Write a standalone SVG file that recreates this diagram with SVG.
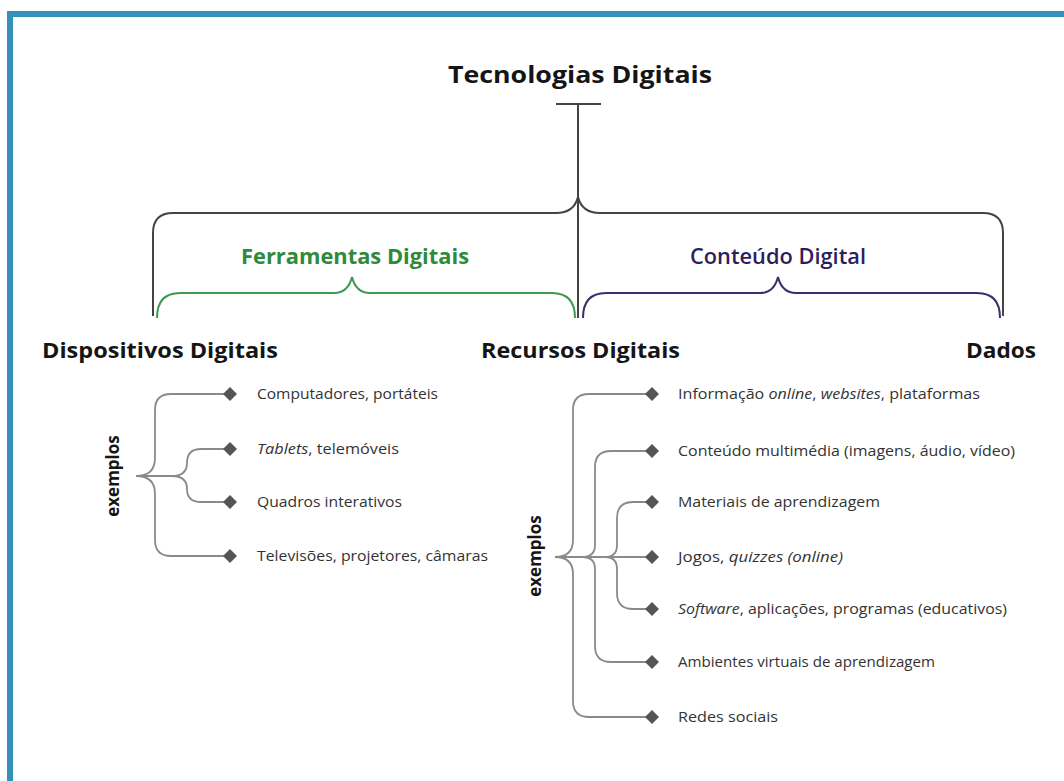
<svg xmlns="http://www.w3.org/2000/svg" xmlns:xlink="http://www.w3.org/1999/xlink" width="1064" height="781" viewBox="0 0 1064 781">
  <style>
    .hd { font-family: "Open Sans", "Liberation Sans", sans-serif; font-weight: 700; fill: #151515; }
    .item { font-family: "Open Sans", "Liberation Sans", sans-serif; font-size: 15px; fill: #333; }
    .it { font-style: italic; }
    .brace { fill: none; stroke: #444; stroke-width: 2; }
    .tree { fill: none; stroke: #8a8a8a; stroke-width: 1.8; }
  </style>
  <defs>
    <polygon id="dia" points="0,-7 7,0 0,7 -7,0" fill="#555"/>
  </defs>

  <rect x="0" y="0" width="1064" height="781" fill="#fff"/>
  <!-- frame -->
  <path d="M10,781 V14 H1064" fill="none" stroke="#3591bb" stroke-width="6"/>

  <!-- connectors -->
  <g id="connectors">
    <path class="brace" d="M556,104 H601 M578,104 V318"/>
    <path class="brace" d="M153,316 V233 Q153,213 173,213 H556 Q574,213 578,197 Q582,213 600,213 H983 Q1003,213 1003,233 V316"/>
    <path fill="none" stroke="#3e9a52" stroke-width="2" d="M157,318 Q157,293 180,293 H334 Q348,293 352,277 Q356,293 370,293 H552 Q575,293 575,318"/>
    <path fill="none" stroke="#3b2e6e" stroke-width="2" d="M583,318 Q583,293 606,293 H760 Q774,293 778,277 Q782,293 796,293 H977 Q1000,293 1000,318"/>

    <!-- device examples -->
    <path class="tree" d="M136,476 Q155,476 155,458 V410 Q155,394 171,394 H230"/>
    <path class="tree" d="M136,476 Q155,476 155,494 V540 Q155,556 171,556 H230"/>
    <path class="tree" d="M136,476 H172 Q187,476 187,463 Q187,449 201,449 H230"/>
    <path class="tree" d="M172,476 Q187,476 187,489 Q187,502 201,502 H230"/>

    <!-- resource examples -->
    <path class="tree" d="M555,557 Q573,557 573,540 V410 Q573,394 589,394 H652"/>
    <path class="tree" d="M555,557 Q573,557 573,574 V701 Q573,717 589,717 H652"/>
    <path class="tree" d="M573,557 H582 Q595,557 595,545 V467 Q595,451 611,451 H652"/>
    <path class="tree" d="M582,557 Q595,557 595,569 V646 Q595,662 611,662 H652"/>
    <path class="tree" d="M595,557 H605 Q617,557 617,545 V518 Q617,502 633,502 H652"/>
    <path class="tree" d="M605,557 Q617,557 617,569 V593 Q617,609 633,609 H652"/>
    <path class="tree" d="M555,557 H652"/>
  </g>

  <g id="title">
    <text class="hd" x="448" y="83" font-size="23" textLength="264" lengthAdjust="spacingAndGlyphs">Tecnologias Digitais</text>
  </g>
  <g id="ferramentas">
    <text x="241" y="264" font-family="Open Sans, Liberation Sans, sans-serif" font-weight="700" font-size="21" fill="#2f8a3c" textLength="228" lengthAdjust="spacingAndGlyphs">Ferramentas Digitais</text>
  </g>
  <g id="conteudo">
    <text x="690" y="264" font-family="Open Sans, Liberation Sans, sans-serif" font-weight="600" font-size="21" fill="#2d1d5c" textLength="176" lengthAdjust="spacingAndGlyphs">Conteúdo Digital</text>
  </g>

  <g id="dispositivos">
    <text class="hd" x="42" y="358" font-size="21" textLength="236" lengthAdjust="spacingAndGlyphs">Dispositivos Digitais</text>
    <text class="hd" font-size="17" transform="translate(119,476) rotate(-90)" text-anchor="middle">exemplos</text>
    <use xlink:href="#dia" x="230" y="394"/>
    <use xlink:href="#dia" x="230" y="449"/>
    <use xlink:href="#dia" x="230" y="502"/>
    <use xlink:href="#dia" x="230" y="556"/>
    <text class="item" x="257" y="399" textLength="181" lengthAdjust="spacingAndGlyphs">Computadores, portáteis</text>
    <text class="item" x="257" y="454" textLength="142" lengthAdjust="spacingAndGlyphs"><tspan class="it">Tablets</tspan>, telemóveis</text>
    <text class="item" x="257" y="507" textLength="145" lengthAdjust="spacingAndGlyphs">Quadros interativos</text>
    <text class="item" x="257" y="561" textLength="231" lengthAdjust="spacingAndGlyphs">Televisões, projetores, câmaras</text>
  </g>

  <g id="recursos">
    <text class="hd" x="481" y="358" font-size="21" textLength="199" lengthAdjust="spacingAndGlyphs">Recursos Digitais</text>
    <text class="hd" font-size="17" transform="translate(541,556) rotate(-90)" text-anchor="middle">exemplos</text>
    <use xlink:href="#dia" x="652" y="394"/>
    <use xlink:href="#dia" x="652" y="451"/>
    <use xlink:href="#dia" x="652" y="502"/>
    <use xlink:href="#dia" x="652" y="557"/>
    <use xlink:href="#dia" x="652" y="609"/>
    <use xlink:href="#dia" x="652" y="662"/>
    <use xlink:href="#dia" x="652" y="717"/>
    <text class="item" x="678" y="399" textLength="302" lengthAdjust="spacingAndGlyphs">Informação <tspan class="it">online</tspan>, <tspan class="it">websites</tspan>, plataformas</text>
    <text class="item" x="678" y="456" textLength="337" lengthAdjust="spacingAndGlyphs">Conteúdo multimédia (imagens, áudio, vídeo)</text>
    <text class="item" x="678" y="507" textLength="202" lengthAdjust="spacingAndGlyphs">Materiais de aprendizagem</text>
    <text class="item" x="678" y="562" textLength="165" lengthAdjust="spacingAndGlyphs">Jogos, <tspan class="it">quizzes (online)</tspan></text>
    <text class="item" x="678" y="614" textLength="329" lengthAdjust="spacingAndGlyphs"><tspan class="it">Software</tspan>, aplicações, programas (educativos)</text>
    <text class="item" x="678" y="667" textLength="257" lengthAdjust="spacingAndGlyphs">Ambientes virtuais de aprendizagem</text>
    <text class="item" x="678" y="722" textLength="100" lengthAdjust="spacingAndGlyphs">Redes sociais</text>
  </g>

  <g id="dados">
    <text class="hd" x="966" y="358" font-size="21" textLength="70" lengthAdjust="spacingAndGlyphs">Dados</text>
  </g>
</svg>
